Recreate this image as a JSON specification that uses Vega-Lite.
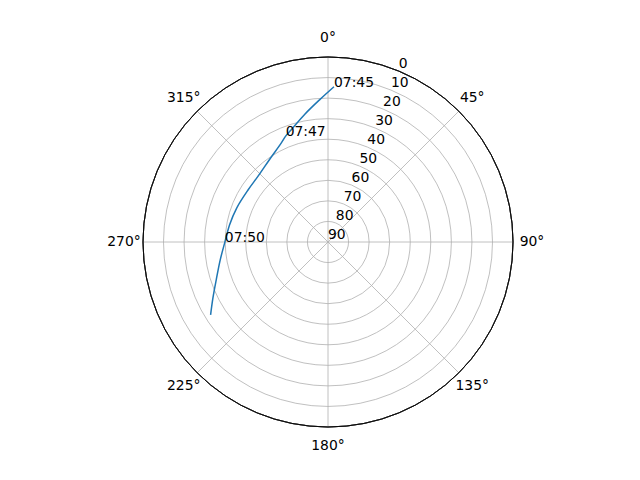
{
  "$schema": "https://vega.github.io/schema/vega-lite/v6.json",
  "description": "Satellite pass sky plot (azimuth clockwise from north, elevation 90 at centre).",
  "width": 370,
  "height": 370,
  "autosize": "none",
  "padding": {"left": 143, "top": 57, "right": 127, "bottom": 53},
  "background": "white",
  "config": {"view": {"stroke": null}, "text": {"font": "DejaVu Sans", "fontSize": 13.9, "color": "black"}},
  "datasets": {
    "track": [
      {"i": 0, "az": 2.2, "el": 14.4, "label": "07:45"},
      {"i": 1, "az": 356.7, "el": 20.6, "label": ""},
      {"i": 2, "az": 349.6, "el": 26.9, "label": ""},
      {"i": 3, "az": 341.9, "el": 32.5, "label": ""},
      {"i": 4, "az": 338.2, "el": 34.5, "label": "07:47"},
      {"i": 5, "az": 334.8, "el": 36.7, "label": ""},
      {"i": 6, "az": 324.7, "el": 40.8, "label": ""},
      {"i": 7, "az": 313.1, "el": 43.3, "label": ""},
      {"i": 8, "az": 303.2, "el": 43.6, "label": ""},
      {"i": 9, "az": 290.4, "el": 42.6, "label": ""},
      {"i": 10, "az": 280.0, "el": 41.4, "label": ""},
      {"i": 11, "az": 269.8, "el": 39.8, "label": "07:50"},
      {"i": 12, "az": 260.7, "el": 36.9, "label": ""},
      {"i": 13, "az": 251.3, "el": 32.6, "label": ""},
      {"i": 14, "az": 244.0, "el": 27.7, "label": ""},
      {"i": 15, "az": 238.2, "el": 22.8, "label": ""}
    ],
    "rings": [
      {"el": 0}, {"el": 10}, {"el": 20}, {"el": 30}, {"el": 40},
      {"el": 50}, {"el": 60}, {"el": 70}, {"el": 80}, {"el": 90}
    ],
    "spokes": [
      {"az": 0, "label": "0°"}, {"az": 45, "label": "45°"}, {"az": 90, "label": "90°"},
      {"az": 135, "label": "135°"}, {"az": 180, "label": "180°"}, {"az": 225, "label": "225°"},
      {"az": 270, "label": "270°"}, {"az": 315, "label": "315°"}
    ]
  },
  "layer": [
    {
      "data": {"name": "rings"},
      "transform": [{"filter": "datum.el > 0 && datum.el < 90"}],
      "mark": {"type": "arc", "filled": false, "stroke": "#b0b0b0", "strokeWidth": 0.8},
      "encoding": {
        "theta": {"datum": 0, "type": "quantitative", "stack": null, "scale": {"type": "linear", "domain": [0, 360], "range": [0, 6.2832], "nice": false, "zero": false}},
        "theta2": {"datum": 360},
        "radius": {"field": "el", "type": "quantitative", "stack": null, "scale": {"type": "linear", "domain": [0, 90], "range": [185, 0], "nice": false, "zero": false}}
      }
    },
    {
      "data": {"name": "spokes"},
      "transform": [
        {"calculate": "90 * sin(datum.az * PI / 180)", "as": "sx"},
        {"calculate": "90 * cos(datum.az * PI / 180)", "as": "sy"},
        {"calculate": "0", "as": "ox"}
      ],
      "mark": {"type": "rule", "color": "#b0b0b0", "strokeWidth": 0.8},
      "encoding": {
        "x": {"field": "ox", "type": "quantitative", "scale": {"domain": [-90, 90], "range": [0, 370], "nice": false, "zero": false}, "axis": null},
        "y": {"field": "ox", "type": "quantitative", "scale": {"domain": [-90, 90], "range": [370, 0], "nice": false, "zero": false}, "axis": null},
        "x2": {"field": "sx"},
        "y2": {"field": "sy"}
      }
    },
    {
      "data": {"name": "rings"},
      "transform": [{"filter": "datum.el == 0"}],
      "mark": {"type": "arc", "filled": false, "stroke": "black", "strokeWidth": 0.8},
      "encoding": {
        "theta": {"datum": 0, "type": "quantitative", "stack": null},
        "theta2": {"datum": 360},
        "radius": {"field": "el", "type": "quantitative", "stack": null}
      }
    },
    {
      "data": {"name": "track"},
      "transform": [
        {"calculate": "(90 - datum.el) * sin(datum.az * PI / 180)", "as": "x"},
        {"calculate": "(90 - datum.el) * cos(datum.az * PI / 180)", "as": "y"}
      ],
      "mark": {"type": "line", "color": "#1f77b4", "strokeWidth": 1.5, "interpolate": "catmull-rom"},
      "encoding": {
        "x": {"field": "x", "type": "quantitative"},
        "y": {"field": "y", "type": "quantitative"},
        "order": {"field": "i", "type": "quantitative"}
      }
    },
    {
      "data": {"name": "track"},
      "transform": [
        {"filter": "datum.label != ''"},
        {"calculate": "(90 - datum.el) * sin(datum.az * PI / 180)", "as": "x"},
        {"calculate": "(90 - datum.el) * cos(datum.az * PI / 180)", "as": "y"}
      ],
      "mark": {"type": "text", "align": "left", "baseline": "alphabetic"},
      "encoding": {
        "x": {"field": "x", "type": "quantitative"},
        "y": {"field": "y", "type": "quantitative"},
        "text": {"field": "label", "type": "nominal"}
      }
    },
    {
      "data": {"name": "rings"},
      "mark": {"type": "text", "align": "left", "baseline": "bottom"},
      "encoding": {
        "theta": {"datum": 22.5, "type": "quantitative", "stack": null},
        "radius": {"field": "el", "type": "quantitative", "stack": null},
        "text": {"field": "el", "type": "quantitative"}
      }
    },
    {
      "data": {"name": "spokes"},
      "mark": {"type": "text", "align": "center", "baseline": "middle", "radiusOffset": 19},
      "encoding": {
        "theta": {"field": "az", "type": "quantitative", "stack": null},
        "radius": {"datum": 0, "type": "quantitative"},
        "text": {"field": "label", "type": "nominal"}
      }
    }
  ]
}
